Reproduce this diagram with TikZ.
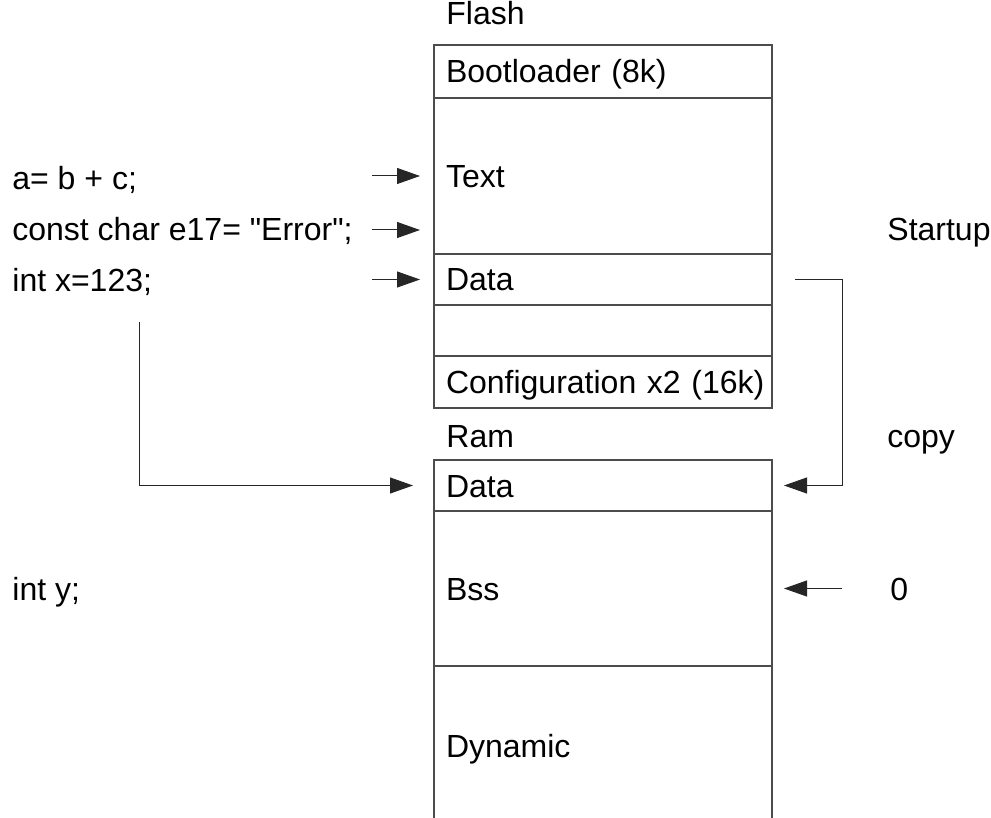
\documentclass[tikz,border=0pt]{standalone}
\usepackage{fontspec}
\setmainfont{Liberation Sans}
\usetikzlibrary{positioning,arrows.meta}
\begin{document}
\begin{tikzpicture}[
    x=0.5pt, y=-0.5pt,
    every node/.style={font=\fontsize{16pt}{19pt}\selectfont, text height=11.5pt, text depth=0pt},
    seg/.style={draw=black!70, line width=0.7pt, rectangle, outer sep=0pt, minimum width=169pt,
      text width=169pt, inner xsep=0pt, inner ysep=0pt, align=left,
      execute at begin node={\hspace*{6pt}}},
    lbl/.style={anchor=west, inner sep=0pt},
    arr/.style={-{Triangle[length=11.5pt,width=8pt]}, line width=0.5pt, draw=black!85},
    node distance=0pt
  ]
  \clip (0,0) rectangle (991,818);
  \node[lbl] (flash) at (446,13) {Flash};
  \node[seg, minimum height=26.5pt, anchor=north west] (boot) at (434,45) {Bootloader (8k)};
  \node[seg, minimum height=78pt, below=of boot] (text) {Text};
  \node[seg, minimum height=25.5pt, below=of text] (fdata) {Data};
  \node[seg, minimum height=25.5pt, below=of fdata] (blank) {};
  \node[seg, minimum height=26pt, below=of blank] (config) {Configuration x2 (16k)};
  \node[lbl] (ram) at (446,436) {Ram};
  \node[seg, minimum height=25.5pt, anchor=north west] (rdata) at (434,460) {Data};
  \node[seg, minimum height=77.5pt, below=of rdata] (bss) {Bss};
  \node[seg, minimum height=80pt, below=of bss] (dyn) {Dynamic};
  \node[lbl] (sum) at (12,178) {a= b + c;};
  \node[lbl] (err) at (12,229) {const char e17= \textquotedbl Error\textquotedbl;};
  \node[lbl] (intx) at (12,280) {int x=123;};
  \node[lbl] (inty) at (12,589) {int y;};
  \node[lbl] (startup) at (887,229) {Startup};
  \node[lbl] (copy) at (887,436) {copy};
  \node[lbl] (zero) at (890,589) {0};
  \coordinate (xsrc) at (139,322);
  \draw[arr] ([xshift=-31pt]text.west) -- ([xshift=-7pt]text.west);
  \draw[arr] ([xshift=-31pt,yshift=12pt]text.south west) -- ([xshift=-7pt,yshift=12pt]text.south west);
  \draw[arr] ([xshift=-31pt]fdata.west) -- ([xshift=-7pt]fdata.west);
  \draw[arr] (xsrc) |- ([xshift=-10.5pt]rdata.west);
  \draw[arr] ([xshift=11.5pt]fdata.east) -- ([xshift=35pt]fdata.east) |- ([xshift=6pt]rdata.east);
  \draw[arr] ([xshift=35pt]bss.east) -- ([xshift=6pt]bss.east);
\end{tikzpicture}
\end{document}
